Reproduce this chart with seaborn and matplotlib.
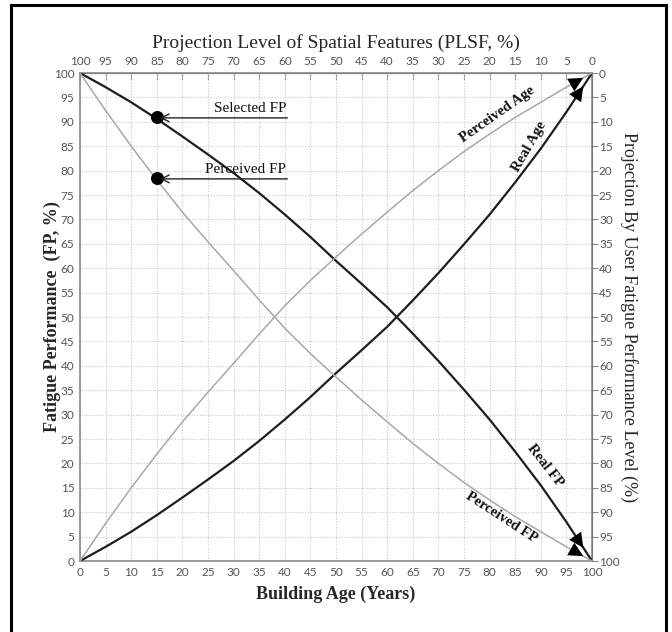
import numpy as np
import pandas as pd
import matplotlib
matplotlib.use("Agg")
import matplotlib.pyplot as plt
import seaborn as sns
from matplotlib.patches import Rectangle

# building age (years), values read every 5 years
age_years = list(range(0, 101, 5))
real_age = [0, 2.9, 6, 9.4, 13, 16.7, 20.5, 24.6, 29, 33.6, 38.5,
            43.2, 48, 53.4, 59, 64.9, 71, 77.6, 84.5, 92, 100]
real_fp = [100, 97.1, 94, 90.6, 87, 83.3, 79.5, 75.4, 71, 66.4, 61.5,
           56.8, 52, 46.6, 41, 35.1, 29, 22.4, 15.5, 8, 0]
perceived_age = [0, 7.7, 15, 21.9, 28.5, 34.6, 40.5, 46.5, 52.3, 57.5, 62.3,
                 67, 71.5, 75.9, 80, 83.9, 87.5, 90.9, 94, 97.1, 100]
perceived_fp = [100, 92.3, 85, 78.1, 71.5, 65.4, 59.5, 53.5, 47.7, 42.5, 37.7,
                33, 28.5, 24.1, 20, 16.1, 12.5, 9.1, 6, 2.9, 0]

selected_age = 15
selected_fp = 91
selected_perceived_fp = 78.5

ticks = list(range(0, 101, 5))

SERIF = "Liberation Serif"
TICKFONT = "Lato"

sns.set_style("white")
plt.rcParams["font.family"] = [SERIF, "DejaVu Sans"]

dark = "#1e1e1e"
grey = "#a8a8a8"

fig = plt.figure(figsize=(6.72, 6.32), dpi=100)
ax = fig.add_axes([80 / 672, 71 / 632, 512 / 672, 488 / 632])

df = pd.DataFrame({
    "age": age_years,
    "Real Age": real_age,
    "Real FP": real_fp,
    "Perceived Age": perceived_age,
    "Perceived FP": perceived_fp,
})
styles = {
    "Real Age": (dark, 1.6),
    "Real FP": (dark, 1.6),
    "Perceived Age": (grey, 1.1),
    "Perceived FP": (grey, 1.1),
}
for name, (col, lw) in styles.items():
    sns.lineplot(data=df, x="age", y=name, ax=ax, color=col, lw=lw, zorder=3)

ax.set_xlim(0, 100)
ax.set_ylim(0, 100)
ax.set_xticks(ticks)
ax.set_yticks(ticks)
ax.grid(True, color="#c8c8c8", lw=0.8, ls=(0, (1, 1.5)))
for s in ax.spines.values():
    s.set_color("#8a8a8a")
    s.set_linewidth(1.2)

ax.tick_params(axis="x", direction="in", length=5, color="#8a8a8a",
               labelsize=8.5, labelcolor="#555555", pad=4)
ax.tick_params(axis="y", direction="out", length=3, color="#8a8a8a",
               labelsize=8.5, labelcolor="#555555", pad=1)
for lab in ax.get_xticklabels() + ax.get_yticklabels():
    lab.set_fontfamily(TICKFONT)

ax.set_xlabel("Building Age (Years)", fontsize=13, fontweight="bold",
              labelpad=6, family=SERIF)
ax.set_ylabel("Fatigue Performance  (FP, %)", fontsize=13, fontweight="bold",
              labelpad=-5, family=SERIF)

flip = (lambda v: 100 - v, lambda v: 100 - v)
top = ax.secondary_xaxis("top", functions=flip)
top.set_xticks(ticks)
top.tick_params(direction="in", length=5, color="#8a8a8a", labelsize=8.5,
                labelcolor="#555555", pad=4)
for lab in top.get_xticklabels():
    lab.set_fontfamily(TICKFONT)
top.set_xlabel("Projection Level of Spatial Features (PLSF, %)", fontsize=14,
               labelpad=6, family=SERIF)

right = ax.secondary_yaxis("right", functions=flip)
right.set_yticks(ticks)
right.tick_params(direction="out", length=4, color="#8a8a8a", labelsize=8.5,
                  labelcolor="#555555", pad=1)
for lab in right.get_yticklabels():
    lab.set_fontfamily(TICKFONT)
right.set_ylabel("Projection By User Fatigue Performance Level (%)", fontsize=13,
                 rotation=-90, labelpad=13, family=SERIF)

# arrow heads at curve ends
for name in styles:
    vals = df[name].values
    tail = np.interp(90.5, age_years, vals)
    tip = np.interp(98.3, age_years, vals)
    ax.annotate("", xy=(98.3, tip), xytext=(90.5, tail),
                arrowprops=dict(arrowstyle="-|>", color="black", lw=0,
                                mutation_scale=26, shrinkA=0, shrinkB=0),
                zorder=4)

# curve labels
lab_kw = dict(fontsize=10.5, fontweight="bold", family=SERIF, color="#111111",
              ha="center", va="center", zorder=5)
ax.text(81.5, 91.5, "Perceived Age", rotation=35, **lab_kw)
ax.text(87.8, 85, "Real Age", rotation=60, **lab_kw)
ax.text(90.8, 19.5, "Real FP", rotation=-52, **lab_kw)
ax.text(82.3, 9.0, "Perceived FP", rotation=-33, **lab_kw)

# selected / perceived points with pointer arrows
ax.scatter([selected_age, selected_age], [selected_fp, selected_perceived_fp],
           s=70, color="black", zorder=6)
for yv, txt in [(selected_fp, "Selected FP"), (selected_perceived_fp, "Perceived FP")]:
    ax.annotate("", xy=(selected_age + 0.6, yv - 0.2), xytext=(40.5, yv - 0.2),
                arrowprops=dict(arrowstyle="->", color="#222222", lw=1.0,
                                mutation_scale=14, shrinkA=0, shrinkB=0),
                zorder=6)
    ax.text(40.3, yv + 0.3, txt, fontsize=11, family=SERIF, ha="right",
            va="bottom", color="#111111", zorder=6)

# outer frame
fig.patches.append(Rectangle((11 / 672, -0.05), 655 / 672, 1 - 5 / 632 + 0.05,
                             transform=fig.transFigure, fill=False,
                             edgecolor="black", lw=2.2))

fig.savefig("out.png", dpi=100)
